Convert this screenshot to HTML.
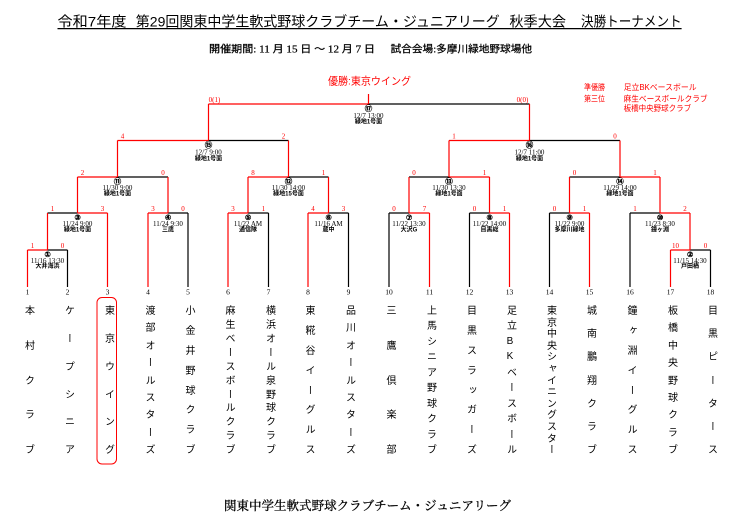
<!DOCTYPE html>
<html lang="ja">
<head>
<meta charset="utf-8">
<style>
html,body{margin:0;padding:0;background:#fff;}
body{width:738px;height:528px;position:relative;overflow:hidden;}
svg{position:absolute;left:0;top:0;}
.col{position:absolute;top:305px;width:12px;height:149.3px;display:flex;flex-direction:column;justify-content:space-between;align-items:center;font-family:"Liberation Sans","Noto Sans CJK JP",sans-serif;font-size:10px;color:#000;}
.col span{display:block;writing-mode:vertical-rl;text-orientation:upright;width:10px;height:10px;line-height:10px;text-align:center;}
</style>
</head>
<body>
<svg width="738" height="528" viewBox="0 0 738 528" xmlns="http://www.w3.org/2000/svg">
<!-- Title -->
<g font-family="Liberation Sans, Noto Sans CJK JP, sans-serif" font-size="14" fill="#000" dominant-baseline="central">
<text x="57.5" y="21.7" textLength="69" lengthAdjust="spacingAndGlyphs">令和7年度</text>
<text x="135.8" y="21.7" textLength="364" lengthAdjust="spacingAndGlyphs">第29回関東中学生軟式野球クラブチーム・ジュニアリーグ</text>
<text x="509.4" y="21.7" textLength="56.6" lengthAdjust="spacingAndGlyphs">秋季大会</text>
<text x="581" y="21.7" textLength="100.6" lengthAdjust="spacingAndGlyphs">決勝トーナメント</text>
</g>
<line x1="57.5" y1="28.6" x2="681.6" y2="28.6" stroke="#000" stroke-width="1.2"/>
<!-- Subtitle -->
<g font-family="Liberation Serif, Noto Sans CJK JP, serif" font-size="10" fill="#000" stroke="#000" stroke-width="0.25" dominant-baseline="central">
<text x="209" y="50" textLength="166" lengthAdjust="spacingAndGlyphs">開催期間: 11 月 15 日 〜 12 月 7 日</text>
<text x="390.6" y="50" textLength="141.4" lengthAdjust="spacingAndGlyphs">試合会場:多摩川緑地野球場他</text>
</g>
<!-- Winner and legend -->
<g font-family="Liberation Sans, Noto Sans CJK JP, sans-serif" fill="#f00" dominant-baseline="central">
<text x="328" y="81.7" font-size="10.5" textLength="83" lengthAdjust="spacingAndGlyphs">優勝:東京ウイング</text>
<text x="584" y="87.3" font-size="8" textLength="21" lengthAdjust="spacingAndGlyphs">準優勝</text>
<text x="623.6" y="87.3" font-size="8" textLength="73" lengthAdjust="spacingAndGlyphs">足立BKベースボール</text>
<text x="584" y="99" font-size="8" textLength="21" lengthAdjust="spacingAndGlyphs">第三位</text>
<text x="623.6" y="99" font-size="8" textLength="84" lengthAdjust="spacingAndGlyphs">麻生ベースボールクラブ</text>
<text x="623.6" y="108.3" font-size="8" textLength="67.5" lengthAdjust="spacingAndGlyphs">板橋中央野球クラブ</text>
</g>

<!-- Black lines -->
<path fill="none" stroke="#000" stroke-width="1.2" d="
M67.5 250V287 M188 213V287 M268.5 213V287 M348.5 213V287 M389 213V287 M469.5 213V287 M549.5 213V287 M630 213V287 M710.5 250V287
M47.5 250H67.5 M690 250H710.5
M47.5 213H77.5 M168 213H188 M248 213H268.5 M328.5 213H348.5 M389 213H409 M469.5 213H489.5 M549.5 213H569.5 M630 213H660
M117.5 177H168 M288.5 177H328.5 M409 177H449 M569.5 177H620
M208.5 140.5H288.5 M529.5 140.5H620
M368.5 104H529.5"/>
<!-- Red lines -->
<path fill="none" stroke="#f00" stroke-width="1.2" d="
M27.5 250V287 M107.5 213V287 M148 213V287 M228 213V287 M308 213V287 M429.5 213V287 M509.5 213V287 M589.5 213V287 M670.5 250V287
M27.5 250H47.5 M670.5 250H690
M77.5 213H107.5 M148 213H168 M228 213H248 M308 213H328.5 M409 213H429.5 M489.5 213H509.5 M569.5 213H589.5 M660 213H690
M77.5 177H117.5 M248 177H288.5 M449 177H489.5 M620 177H660
M117.5 140.5H208.5 M449 140.5H529.5
M208.5 104H368.5
M47.5 213V250 M690 213V250
M77.5 177V213 M168 177V213 M248 177V213 M328.5 177V213 M409 177V213 M489.5 177V213 M569.5 177V213 M660 177V213
M117.5 140.5V177 M288.5 140.5V177 M449 140.5V177 M620 140.5V177
M208.5 104V140.5 M529.5 104V140.5
M368.5 94V104"/>

<!-- Scores -->
<g font-family="Liberation Serif, serif" font-size="7" fill="#f00" text-anchor="middle" dominant-baseline="central">
<text x="32.5" y="246">1</text><text x="62.5" y="246">0</text>
<text x="675.5" y="246">10</text><text x="705.5" y="246">0</text>
<text x="52.5" y="209">1</text><text x="102.5" y="209">3</text>
<text x="153" y="209">3</text><text x="183" y="209">0</text>
<text x="233" y="209">3</text><text x="263.5" y="209">1</text>
<text x="313" y="209">4</text><text x="343.5" y="209">3</text>
<text x="394" y="209">0</text><text x="424.5" y="209">7</text>
<text x="474.5" y="209">0</text><text x="504.5" y="209">1</text>
<text x="554.5" y="209">0</text><text x="584.5" y="209">1</text>
<text x="635" y="209">1</text><text x="685" y="209">2</text>
<text x="82.5" y="173">2</text><text x="163" y="173">0</text>
<text x="253" y="173">8</text><text x="323.5" y="173">1</text>
<text x="414" y="173">0</text><text x="484.5" y="173">1</text>
<text x="574.5" y="173">0</text><text x="655" y="173">1</text>
<text x="122.5" y="136.5">4</text><text x="283.5" y="136.5">2</text>
<text x="454" y="136.5">1</text><text x="615" y="136.5">0</text>
<text x="214.5" y="100">0(1)</text><text x="522.5" y="100">0(0)</text>
</g>

<!-- Match circles -->
<g font-family="DejaVu Sans, Noto Sans CJK JP, sans-serif" font-size="7.5" font-weight="bold" fill="#000" stroke="#000" stroke-width="0.3" text-anchor="middle" dominant-baseline="central">
<text x="47.5" y="254.5">①</text>
<text x="690" y="254.5">②</text>
<text x="77.5" y="217.5">③</text>
<text x="168" y="217.5">④</text>
<text x="248" y="217.5">⑤</text>
<text x="328.5" y="217.5">⑥</text>
<text x="409" y="217.5">⑦</text>
<text x="489.5" y="217.5">⑧</text>
<text x="569.5" y="217.5">⑨</text>
<text x="660" y="217.5">⑩</text>
<text x="117.5" y="181.5">⑪</text>
<text x="288.5" y="181.5">⑫</text>
<text x="449" y="181.5">⑬</text>
<text x="620" y="181.5">⑭</text>
<text x="208.5" y="144.8">⑮</text>
<text x="529.5" y="144.8">⑯</text>
<text x="368.5" y="108.4">⑰</text>
</g>

<!-- Dates -->
<g font-family="Liberation Serif, serif" font-size="7" fill="#000" text-anchor="middle" dominant-baseline="central">
<text x="47.5" y="261">11/16 13:30</text>
<text x="690" y="261">11/15 14:30</text>
<text x="77.5" y="224">11/24 9:00</text>
<text x="168" y="224">11/24 9:30</text>
<text x="248" y="224">11/22 AM</text>
<text x="328.5" y="224">11/16 AM</text>
<text x="409" y="224">11/22 13:30</text>
<text x="489.5" y="224">11/22 14:00</text>
<text x="569.5" y="224">11/22 9:00</text>
<text x="660" y="224">11/23 8:30</text>
<text x="117.5" y="188">11/30 9:00</text>
<text x="288.5" y="188">11/30 14:00</text>
<text x="449" y="188">11/30 13:30</text>
<text x="620" y="188">11/29 14:00</text>
<text x="208.5" y="152.3">12/7 9:00</text>
<text x="529.5" y="152.3">12/7 11:00</text>
<text x="368.5" y="115.8">12/7 13:00</text>
</g>

<!-- Venues -->
<g font-family="Liberation Sans, Noto Sans CJK JP, sans-serif" font-size="6" font-weight="bold" fill="#000" text-anchor="middle" dominant-baseline="central">
<text x="47.5" y="267">大井海浜</text>
<text x="690" y="267">戸田橋</text>
<text x="77.5" y="230.7">緑地1号面</text>
<text x="168" y="230.7">三鷹</text>
<text x="248" y="230.7">通信隊</text>
<text x="328.5" y="230.7">蔵中</text>
<text x="409" y="230.7">大沢G</text>
<text x="489.5" y="230.7">目黒総</text>
<text x="569.5" y="230.7">多摩川緑地</text>
<text x="660" y="230.7">鐘ヶ淵</text>
<text x="117.5" y="194.3">緑地1号面</text>
<text x="288.5" y="194.3">緑地15号面</text>
<text x="449" y="194.3">緑地1号面</text>
<text x="620" y="194.3">緑地1号面</text>
<text x="208.5" y="159.3">緑地1号面</text>
<text x="529.5" y="159.3">緑地1号面</text>
<text x="368.5" y="122.6">緑地1号面</text>
</g>

<!-- Team numbers -->
<g font-family="Liberation Serif, serif" font-size="7.5" fill="#000" text-anchor="middle" dominant-baseline="central">
<text x="27.5" y="291.8">1</text><text x="67.5" y="291.8">2</text><text x="107.5" y="291.8">3</text>
<text x="148" y="291.8">4</text><text x="188" y="291.8">5</text><text x="228" y="291.8">6</text>
<text x="268.5" y="291.8">7</text><text x="308" y="291.8">8</text><text x="348.5" y="291.8">9</text>
<text x="389" y="291.8">10</text><text x="429.5" y="291.8">11</text><text x="469.5" y="291.8">12</text>
<text x="509.5" y="291.8">13</text><text x="549.5" y="291.8">14</text><text x="589.5" y="291.8">15</text>
<text x="630" y="291.8">16</text><text x="670.5" y="291.8">17</text><text x="710.5" y="291.8">18</text>
</g>

<!-- Champion highlight -->
<rect x="97" y="297.5" width="19.5" height="166.5" rx="5" ry="5" fill="none" stroke="#f00" stroke-width="1"/>

<!-- Footer -->
<text x="224" y="506" font-family="Liberation Serif, Noto Serif CJK SC, serif" font-size="12.5" fill="#000" stroke="#000" stroke-width="0.3" dominant-baseline="central" textLength="287" lengthAdjust="spacingAndGlyphs">関東中学生軟式野球クラブチーム・ジュニアリーグ</text>
</svg>

<!-- Team names (vertical) -->
<div class="col" style="left:21.5px"><span>本</span><span>村</span><span>ク</span><span>ラ</span><span>ブ</span></div>
<div class="col" style="left:61.5px"><span>ケ</span><span>ー</span><span>プ</span><span>シ</span><span>ニ</span><span>ア</span></div>
<div class="col" style="left:101.5px"><span>東</span><span>京</span><span>ウ</span><span>イ</span><span>ン</span><span>グ</span></div>
<div class="col" style="left:142px"><span>渡</span><span>部</span><span>オ</span><span>ー</span><span>ル</span><span>ス</span><span>タ</span><span>ー</span><span>ズ</span></div>
<div class="col" style="left:182px"><span>小</span><span>金</span><span>井</span><span>野</span><span>球</span><span>ク</span><span>ラ</span><span>ブ</span></div>
<div class="col" style="left:222px"><span>麻</span><span>生</span><span>ベ</span><span>ー</span><span>ス</span><span>ボ</span><span>ー</span><span>ル</span><span>ク</span><span>ラ</span><span>ブ</span></div>
<div class="col" style="left:262.5px"><span>横</span><span>浜</span><span>オ</span><span>ー</span><span>ル</span><span>泉</span><span>野</span><span>球</span><span>ク</span><span>ラ</span><span>ブ</span></div>
<div class="col" style="left:302px"><span>東</span><span>糀</span><span>谷</span><span>イ</span><span>ー</span><span>グ</span><span>ル</span><span>ス</span></div>
<div class="col" style="left:342.5px"><span>品</span><span>川</span><span>オ</span><span>ー</span><span>ル</span><span>ス</span><span>タ</span><span>ー</span><span>ズ</span></div>
<div class="col" style="left:383px"><span>三</span><span>鷹</span><span>倶</span><span>楽</span><span>部</span></div>
<div class="col" style="left:423.5px"><span>上</span><span>馬</span><span>シ</span><span>ニ</span><span>ア</span><span>野</span><span>球</span><span>ク</span><span>ラ</span><span>ブ</span></div>
<div class="col" style="left:463.5px"><span>目</span><span>黒</span><span>ス</span><span>ラ</span><span>ッ</span><span>ガ</span><span>ー</span><span>ズ</span></div>
<div class="col" style="left:503.5px"><span>足</span><span>立</span><span>B</span><span>K</span><span>ベ</span><span>ー</span><span>ス</span><span>ボ</span><span>ー</span><span>ル</span></div>
<div class="col" style="left:543.5px"><span>東</span><span>京</span><span>中</span><span>央</span><span>シ</span><span>ャ</span><span>イ</span><span>ニ</span><span>ン</span><span>グ</span><span>ス</span><span>タ</span><span>ー</span></div>
<div class="col" style="left:583.5px"><span>城</span><span>南</span><span>鵬</span><span>翔</span><span>ク</span><span>ラ</span><span>ブ</span></div>
<div class="col" style="left:624px"><span>鐘</span><span>ヶ</span><span>淵</span><span>イ</span><span>ー</span><span>グ</span><span>ル</span><span>ス</span></div>
<div class="col" style="left:664.5px"><span>板</span><span>橋</span><span>中</span><span>央</span><span>野</span><span>球</span><span>ク</span><span>ラ</span><span>ブ</span></div>
<div class="col" style="left:704.5px"><span>目</span><span>黒</span><span>ピ</span><span>ー</span><span>タ</span><span>ー</span><span>ス</span></div>
</body>
</html>
